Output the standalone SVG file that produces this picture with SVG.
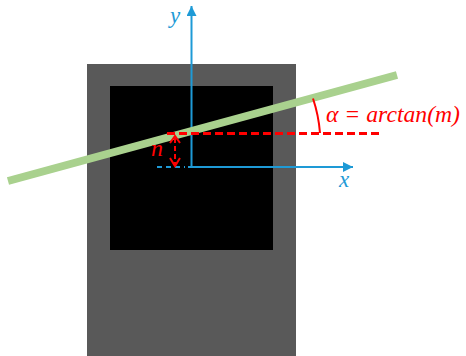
<svg xmlns="http://www.w3.org/2000/svg" width="466" height="356" viewBox="0 0 466 356">
<defs>
<style>
.ax{stroke:#1E9AD6;stroke-width:2;fill:none}
.axt{fill:#1E9AD6;font-family:"Liberation Serif",serif;font-style:italic;font-size:23px}
.red{stroke:#FF0000;fill:none}
.redt{fill:#FF0000;font-family:"Liberation Serif",serif;font-style:italic;font-size:24px}
</style>
<marker id="ah" viewBox="0 0 10 10" refX="10" refY="5" markerWidth="10" markerHeight="10" markerUnits="userSpaceOnUse" orient="auto">
<path d="M0,0 L10,5 L0,10 Z" fill="#1E9AD6"/>
</marker>
</defs>
<rect width="466" height="356" fill="#FFFFFF"/>
<g id="sensor">
<rect x="87" y="64" width="209" height="292" fill="#595959"/>
<rect x="110" y="86" width="163" height="164" fill="#000000"/>
</g>
<g id="connectors">
<line class="ax" x1="191.5" y1="167" x2="191.5" y2="6" marker-end="url(#ah)"/>
<line class="ax" x1="188" y1="167" x2="353" y2="167" marker-end="url(#ah)"/>
<line class="ax" x1="157" y1="167" x2="185" y2="167" stroke-dasharray="5 4"/>
<line x1="8" y1="181" x2="397" y2="75" stroke="#A9D18E" stroke-width="8"/>
<line class="red" x1="167" y1="133.5" x2="382" y2="133.5" stroke-width="3" stroke-dasharray="8 4"/>
<path class="red" d="M320,133 A144,144 0 0 0 313,98.5" stroke-width="2"/>
<line class="red" x1="175" y1="138" x2="175" y2="164" stroke-width="2" stroke-dasharray="5 3"/>
<polyline class="red" points="170,143 175,136 180,143" stroke-width="2"/>
<polyline class="red" points="170,158 175,166 180,158" stroke-width="2"/>
</g>
<g id="labels">
<text class="axt" x="170" y="23">y</text>
<text class="axt" x="339" y="187">x</text>
<text class="redt" x="151" y="156">n</text>
<text class="redt" x="326" y="122" textLength="134" lengthAdjust="spacingAndGlyphs">α = arctan(m)</text>
</g>
</svg>
